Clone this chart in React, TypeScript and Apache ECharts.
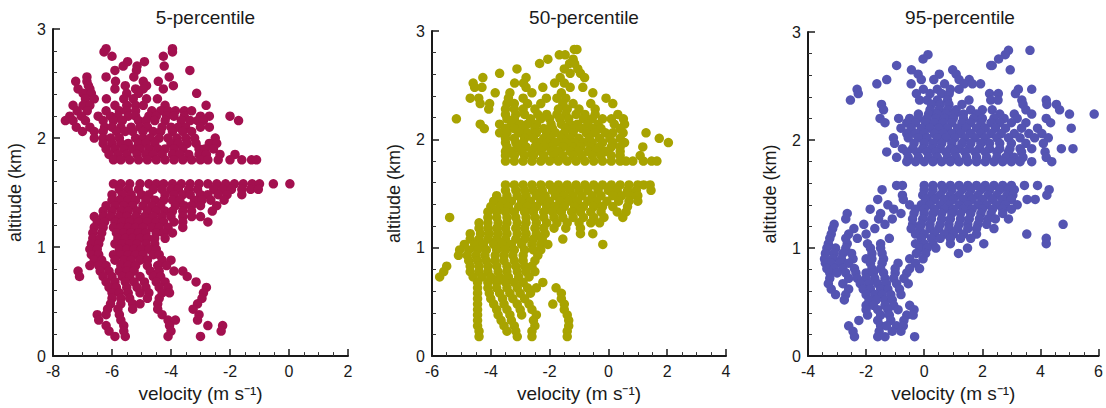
import { useEffect, useRef } from "react";
import * as echarts from "echarts";

// Each row: [altitude (km), velocities (m/s) observed at that altitude]
type Row = [number, number[]];

const P05_ROWS: Row[] = [
  [2.82, [-6.2, -3.95]],
  [2.79, [-6.27, -3.95]],
  [2.75, [-6.0, -4.26]],
  [2.7, [-5.47, -4.9]],
  [2.66, [-5.62, -5.15, -4.23]],
  [2.62, [-5.9, -5.17, -3.36]],
  [2.56, [-6.85, -6.2, -5.26, -4.06]],
  [2.52, [-7.23, -6.85, -5.88, -4.94, -4.43]],
  [2.48, [-6.8, -5.55, -4.83, -3.92]],
  [2.45, [-7.15, -6.75, -5.9, -5.2, -4.94, -4.26]],
  [2.41, [-6.98, -6.7, -5.5, -5.1, -3.13]],
  [2.36, [-6.9, -6.6, -6.19, -5.6, -5.28, -4.83, -4.46]],
  [2.3, [-7.32, -6.98, -6.75, -5.9, -5.5, -5.2, -4.94, -4.2, -2.81]],
  [2.25, [-7.18, -6.84, -6.2, -5.75, -5.5, -5.2, -4.65, -4.35, -4.1, -3.85, -3.55, -3.3]],
  [2.2, [-7.43, -7.04, -6.47, -6.05, -5.8, -5.45, -5.2, -4.75, -4.5, -4.15, -3.9, -3.55, -3.0, -2.7, -2.0]],
  [2.16, [-7.58, -7.32, -6.9, -6.3, -5.95, -5.65, -5.1, -4.85, -4.55, -4.2, -3.65, -3.35, -3.1, -2.9, -1.71]],
  [2.1, [-7.21, -6.75, -6.25, -6.0, -5.7, -5.35, -5.05, -4.8, -4.3, -4.0, -3.75, -3.5, -3.0, -2.7]],
  [2.06, [-7.0, -6.6, -6.3, -5.85, -5.55, -5.3, -4.95, -4.6, -4.35, -3.95, -3.6, -3.3]],
  [2.0, [-6.6, -6.3, -6.05, -5.75, -5.2, -4.95, -4.7, -4.4, -4.1, -3.8, -3.5, -3.2, -2.5]],
  [1.95, [-6.3, -6.0, -5.7, -5.45, -5.1, -4.85, -4.55, -4.0, -3.75, -3.45, -3.15, -2.7, -2.45]],
  [1.9, [-6.2, -5.9, -5.6, -5.3, -5.05, -4.75, -4.45, -4.2, -3.9, -3.6, -3.05, -2.85, -2.56]],
  [1.85, [-6.1, -5.8, -5.5, -5.15, -4.85, -4.6, -4.3, -3.95, -3.7, -3.4, -3.05, -2.8, -2.34, -1.83]],
  [1.8, [-5.95, -5.7, -5.4, -5.1, -4.8, -4.5, -4.2, -3.9, -3.6, -3.3, -3.0, -2.75, -2.4, -2.0, -1.6, -1.27, -1.1]],
  [1.58, [-5.95, -5.7, -5.4, -5.05, -4.75, -4.5, -4.25, -3.95, -3.65, -3.35, -3.05, -2.75, -2.45, -2.15, -1.85, -1.55, -1.25, -1.0, -0.53, 0.03]],
  [1.53, [-5.75, -5.45, -5.1, -4.6, -4.3, -4.0, -3.75, -3.4, -3.1, -2.55, -2.25, -1.95, -1.6, -1.3, -1.04]],
  [1.48, [-6.0, -5.65, -5.35, -5.0, -4.75, -4.2, -3.9, -3.6, -3.35, -3.0, -2.75, -2.4, -2.1, -1.6]],
  [1.43, [-6.0, -5.75, -5.45, -5.2, -4.85, -4.55, -4.25, -3.95, -3.7, -3.2, -2.95, -2.65, -2.2]],
  [1.38, [-6.2, -5.9, -5.6, -5.3, -4.95, -4.65, -4.35, -3.85, -3.55, -3.3, -3.0, -2.45]],
  [1.33, [-6.3, -6.0, -5.7, -5.45, -5.15, -4.8, -4.5, -4.2, -3.95, -3.6, -3.3, -2.6]],
  [1.28, [-6.6, -6.3, -6.05, -5.75, -5.5, -5.2, -4.9, -4.6, -4.3, -4.0, -3.6, -3.3, -3.0]],
  [1.23, [-6.5, -6.25, -5.9, -5.65, -5.4, -5.1, -4.8, -4.5, -4.25, -3.9, -3.6, -2.75]],
  [1.18, [-6.6, -6.3, -5.95, -5.7, -5.45, -5.2, -4.95, -4.65, -4.4, -4.1, -3.6]],
  [1.13, [-6.65, -6.35, -5.85, -5.6, -5.35, -5.1, -4.85, -4.5, -4.25, -3.95]],
  [1.08, [-6.65, -6.4, -5.8, -5.55, -5.3, -5.05, -4.8, -4.55, -4.2]],
  [1.03, [-6.7, -6.45, -5.9, -5.65, -5.4, -5.15, -4.85, -4.55]],
  [0.98, [-6.75, -6.5, -5.75, -5.5, -5.25, -5.0, -4.75, -4.5]],
  [0.93, [-6.7, -6.45, -5.95, -5.7, -5.45, -5.2, -4.95, -4.6, -4.4]],
  [0.88, [-6.6, -6.35, -5.9, -5.6, -5.35, -5.05, -4.8, -4.3, -4.0]],
  [0.83, [-6.75, -6.45, -6.2, -5.7, -5.45, -5.2, -4.8, -4.45, -4.15]],
  [0.78, [-7.15, -6.4, -6.1, -5.75, -5.5, -5.25, -4.7, -4.4, -3.9, -3.6]],
  [0.73, [-7.1, -6.3, -6.0, -5.65, -5.4, -5.05, -4.6, -4.35, -3.45]],
  [0.68, [-6.2, -5.9, -5.55, -5.25, -4.9, -4.5, -4.2, -3.15]],
  [0.63, [-6.1, -5.85, -5.5, -5.15, -4.85, -4.4, -4.1, -2.8]],
  [0.58, [-6.0, -5.75, -5.45, -5.05, -4.75, -4.3, -4.05, -2.9]],
  [0.53, [-6.0, -5.7, -5.4, -4.8, -4.4, -2.95]],
  [0.48, [-6.05, -5.7, -5.3, -5.05, -4.45, -3.1]],
  [0.43, [-6.15, -5.8, -5.3, -4.45, -3.25]],
  [0.38, [-6.5, -6.2, -5.75, -4.3, -3.05]],
  [0.33, [-6.45, -5.7, -4.1, -3.85, -3.1]],
  [0.28, [-6.2, -5.6, -4.05, -2.75, -2.25]],
  [0.23, [-6.1, -5.6, -4.0, -2.3]],
  [0.18, [-5.9, -5.55, -4.1, -3.0]],
];

const P50_ROWS: Row[] = [
  [2.83, [-1.16, -1.07]],
  [2.78, [-1.67, -1.47]],
  [2.74, [-2.06, -1.2]],
  [2.7, [-2.34, -1.32, -1.15]],
  [2.65, [-3.11, -1.5, -1.04]],
  [2.61, [-3.7, -1.3, -0.95]],
  [2.57, [-4.27, -2.8, -1.64, -0.81]],
  [2.52, [-4.6, -3.19, -2.89, -1.83, -1.5]],
  [2.48, [-4.55, -4.3, -2.8, -2.23, -1.3, -0.87]],
  [2.43, [-3.85, -3.35, -2.6, -1.6, -0.53]],
  [2.38, [-4.7, -4.41, -3.4, -2.9, -2.11, -1.75, -1.45, -0.08]],
  [2.33, [-4.36, -4.04, -3.45, -3.2, -2.75, -2.3, -1.55, -1.2, -0.6, 0.15]],
  [2.28, [-4.07, -3.5, -3.2, -2.9, -2.5, -1.7, -1.4, -1.0, -0.45]],
  [2.23, [-3.5, -3.15, -2.85, -2.4, -2.1, -1.75, -1.45, -1.1, -0.8, -0.45, 0.32]],
  [2.19, [-5.17, -3.45, -3.2, -2.65, -2.3, -2.0, -1.65, -1.35, -0.85, -0.55, -0.2, 0.1, 0.51]],
  [2.14, [-4.36, -3.7, -3.3, -3.0, -2.75, -2.45, -1.95, -1.6, -1.3, -1.05, -0.7, -0.35, 0.2, 0.55]],
  [2.1, [-4.22, -3.5, -3.2, -2.9, -2.5, -2.2, -1.9, -1.45, -1.15, -0.9, -0.55, -0.25, 0.4]],
  [2.06, [-3.7, -3.45, -3.05, -2.75, -2.45, -2.1, -1.8, -1.5, -1.2, -0.75, -0.45, -0.1, 0.15, 0.5, 1.28]],
  [2.01, [-3.5, -3.2, -2.85, -2.55, -2.2, -1.95, -1.6, -1.3, -1.0, -0.65, -0.3, 0.05, 0.4, 1.73]],
  [1.97, [-3.5, -3.15, -2.9, -2.4, -2.1, -1.8, -1.45, -1.15, -0.85, -0.55, -0.2, 0.15, 0.55, 2.04]],
  [1.93, [-3.45, -3.1, -2.8, -2.5, -2.2, -1.9, -1.55, -1.25, -0.95, -0.6, -0.3, 0.1, 0.4, 1.17]],
  [1.89, [-3.5, -3.25, -2.95, -2.6, -2.3, -1.95, -1.7, -1.3, -1.05, -0.7, -0.4, -0.1, 0.4]],
  [1.85, [-3.5, -3.2, -2.85, -2.55, -2.2, -1.85, -1.55, -1.2, -0.9, -0.55, -0.25, 0.1, 0.4, 1.08]],
  [1.8, [-3.5, -3.2, -2.9, -2.6, -2.3, -2.0, -1.7, -1.4, -1.1, -0.8, -0.5, -0.2, 0.1, 0.4, 0.6, 0.83, 1.19, 1.47, 1.65]],
  [1.58, [-3.5, -3.2, -2.9, -2.6, -2.3, -2.0, -1.7, -1.4, -1.1, -0.8, -0.5, -0.2, 0.1, 0.4, 0.7, 1.0, 1.2, 1.42]],
  [1.53, [-3.5, -3.15, -2.85, -2.55, -2.25, -1.9, -1.6, -1.3, -1.0, -0.7, -0.35, 0.0, 0.3, 0.65, 0.95, 1.45]],
  [1.48, [-3.8, -3.45, -3.1, -2.8, -2.45, -2.15, -1.8, -1.5, -1.2, -0.9, -0.55, -0.25, 0.15, 0.45, 0.75, 1.0]],
  [1.43, [-3.9, -3.6, -3.3, -2.95, -2.65, -2.3, -2.0, -1.65, -1.35, -1.05, -0.7, -0.4, -0.05, 0.35, 0.7, 1.0]],
  [1.38, [-4.0, -3.7, -3.4, -3.05, -2.75, -2.45, -2.1, -1.8, -1.5, -1.15, -0.85, -0.5, -0.2, 0.15, 0.65]],
  [1.33, [-4.1, -3.8, -3.5, -3.2, -2.85, -2.55, -2.2, -1.9, -1.6, -1.25, -0.95, -0.6, -0.25, 0.3, 0.6]],
  [1.28, [-5.4, -4.1, -3.8, -3.45, -3.15, -2.8, -2.5, -2.2, -1.85, -1.55, -1.2, -0.85, -0.5, -0.15, 0.49]],
  [1.23, [-4.4, -4.1, -3.75, -3.45, -3.1, -2.8, -2.45, -2.1, -1.75, -1.4, -1.0, -0.6, -0.3]],
  [1.18, [-4.4, -4.1, -3.8, -3.5, -3.15, -2.85, -2.5, -2.2, -1.85, -1.45, -0.95]],
  [1.13, [-4.7, -4.35, -4.05, -3.75, -3.45, -3.1, -2.8, -2.45, -2.15, -0.95, -0.53]],
  [1.08, [-4.7, -4.4, -4.1, -3.8, -3.5, -3.15, -2.85, -2.55, -2.25, -1.55]],
  [1.03, [-4.9, -4.55, -4.25, -3.9, -3.6, -3.3, -2.95, -2.6, -2.3, -2.06, -0.19]],
  [0.98, [-5.06, -4.75, -4.45, -4.15, -3.8, -3.5, -3.2, -2.85, -2.55, -2.3]],
  [0.93, [-5.1, -4.8, -4.5, -4.2, -3.85, -3.55, -3.25, -2.9, -2.4]],
  [0.88, [-4.75, -4.45, -4.15, -3.85, -3.55, -3.2, -2.9, -2.5]],
  [0.83, [-5.5, -4.7, -4.4, -4.1, -3.8, -3.45, -3.15, -2.85, -2.6]],
  [0.78, [-5.6, -4.7, -4.4, -4.1, -3.75, -3.45, -3.1, -2.8, -2.5]],
  [0.73, [-5.74, -4.6, -4.3, -4.0, -3.7, -3.4, -3.05, -2.7]],
  [0.68, [-4.45, -4.1, -3.8, -3.5, -3.2, -2.9, -2.23]],
  [0.63, [-4.45, -4.1, -3.8, -3.45, -3.1, -2.75, -2.45, -1.78]],
  [0.58, [-4.45, -4.05, -3.7, -3.35, -3.0, -2.65, -1.6]],
  [0.53, [-4.45, -4.0, -3.6, -3.25, -2.85, -1.6]],
  [0.48, [-4.45, -3.9, -3.55, -3.1, -2.7, -1.89, -1.5]],
  [0.43, [-4.45, -3.8, -3.45, -3.0, -2.6, -1.5]],
  [0.38, [-4.45, -3.75, -3.35, -2.95, -2.45, -1.4]],
  [0.33, [-4.45, -3.65, -3.3, -2.55, -1.35]],
  [0.28, [-4.45, -3.55, -3.2, -2.5, -1.35]],
  [0.23, [-4.4, -3.45, -3.15, -2.6, -1.4]],
  [0.18, [-4.4, -3.1, -2.6, -1.4]],
];

const P95_ROWS: Row[] = [
  [2.83, [2.9, 3.64]],
  [2.79, [0.13, 2.79]],
  [2.75, [-0.04, 2.56]],
  [2.69, [-0.95, 2.29, 2.34]],
  [2.65, [-0.44, 0.98, 2.96]],
  [2.61, [-0.21, 0.52, 1.1]],
  [2.56, [-1.29, -0.1, 0.33, 1.2, 1.55]],
  [2.52, [-1.63, -0.45, 0.7, 1.37, 1.66, 1.94]],
  [2.47, [-2.31, -0.03, 0.45, 0.9, 1.2, 3.24, 3.7]],
  [2.43, [-2.27, -0.27, 0.2, 0.6, 0.86, 2.25, 2.55, 3.14]],
  [2.37, [-2.54, -0.16, 0.1, 0.45, 0.8, 1.54, 2.29, 2.54, 3.36, 4.2]],
  [2.33, [-1.47, 0.25, 0.55, 0.85, 1.3, 3.4, 4.22, 4.55]],
  [2.28, [-1.4, 0.2, 0.5, 0.8, 1.1, 1.6, 2.0, 2.34, 3.5, 4.66]],
  [2.24, [-0.2, 0.15, 0.45, 0.75, 1.05, 1.35, 1.8, 2.6, 3.1, 3.7, 5.0, 5.85]],
  [2.2, [-1.52, -0.88, -0.5, -0.2, 0.1, 0.4, 0.7, 1.0, 1.35, 1.7, 2.0, 2.4, 2.75, 3.2, 4.2]],
  [2.16, [-1.35, -0.6, -0.3, 0.05, 0.35, 0.65, 0.95, 1.3, 1.6, 1.95, 2.3, 2.6, 3.0, 3.5, 4.35]],
  [2.11, [-0.8, -0.45, -0.1, 0.2, 0.5, 0.8, 1.15, 1.45, 1.8, 2.1, 2.45, 2.8, 3.35, 3.9, 5.06]],
  [2.06, [-0.6, -0.3, 0.0, 0.35, 0.65, 0.95, 1.25, 1.6, 1.95, 2.3, 2.65, 3.1, 3.6, 4.05]],
  [2.02, [-1.06, -0.55, -0.2, 0.1, 0.45, 0.75, 1.05, 1.4, 1.75, 2.1, 2.5, 2.9, 3.3, 3.8, 4.27]],
  [1.97, [-1.02, -0.35, 0.0, 0.3, 0.6, 0.95, 1.3, 1.6, 1.95, 2.25, 2.6, 3.0, 3.5, 4.1]],
  [1.92, [-0.75, -0.4, -0.05, 0.25, 0.55, 0.9, 1.2, 1.55, 1.9, 2.25, 2.6, 2.95, 3.3, 3.7, 4.72, 5.12]],
  [1.89, [-1.29, -0.6, -0.25, 0.1, 0.4, 0.75, 1.05, 1.4, 1.75, 2.1, 2.5, 2.9, 3.35, 4.16]],
  [1.84, [-0.95, -0.55, -0.2, 0.15, 0.45, 0.8, 1.1, 1.45, 1.8, 2.15, 2.5, 2.8, 3.1, 3.4, 4.2]],
  [1.8, [-0.6, -0.3, 0.0, 0.3, 0.6, 0.9, 1.2, 1.5, 1.8, 2.1, 2.4, 2.7, 3.0, 3.3, 3.7, 4.39]],
  [1.58, [-0.95, -0.75, 0.0, 0.3, 0.6, 0.9, 1.2, 1.5, 1.8, 2.1, 2.4, 2.7, 3.0, 3.45, 3.9]],
  [1.54, [-1.45, 0.0, 0.3, 0.65, 0.95, 1.3, 1.6, 1.95, 2.25, 2.6, 2.9, 3.1, 4.3]],
  [1.49, [-0.75, -0.05, 0.25, 0.55, 0.9, 1.2, 1.55, 1.85, 2.2, 2.5, 2.85, 3.05, 4.22]],
  [1.45, [-1.6, -0.72, 0.05, 0.35, 0.7, 1.0, 1.35, 1.65, 2.0, 2.35, 2.7, 3.0, 3.54, 3.82]],
  [1.4, [-1.25, -0.5, -0.1, 0.2, 0.55, 0.85, 1.2, 1.5, 1.85, 2.15, 2.5, 2.8, 3.2]],
  [1.36, [-1.86, -1.05, -0.3, 0.0, 0.35, 0.7, 1.0, 1.35, 1.65, 2.0, 2.35, 2.7, 3.0]],
  [1.32, [-2.65, -1.5, -0.8, -0.35, 0.0, 0.3, 0.6, 0.95, 1.25, 1.6, 1.95, 2.3, 2.7]],
  [1.27, [-2.7, -1.57, -1.1, -0.4, -0.05, 0.25, 0.6, 0.9, 1.25, 1.55, 1.9, 2.2, 2.45, 2.9]],
  [1.22, [-3.1, -2.08, -1.35, -0.4, -0.1, 0.2, 0.55, 0.85, 1.2, 1.5, 1.85, 2.15, 4.78]],
  [1.18, [-3.15, -2.42, -1.7, -0.45, -0.15, 0.2, 0.5, 0.85, 1.15, 1.5, 1.8, 2.4]],
  [1.13, [-3.2, -2.6, -2.0, -0.3, 0.0, 0.35, 0.7, 1.0, 1.35, 1.8, 3.53]],
  [1.09, [-3.25, -2.7, -2.3, -1.2, -0.1, 0.25, 0.55, 0.9, 1.25, 1.6, 4.2]],
  [1.04, [-3.3, -2.65, -1.95, -1.5, -0.3, 0.0, 0.3, 0.9, 2.05, 4.2]],
  [1.0, [-3.35, -3.05, -2.7, -1.85, -1.5, -0.15, 0.1, 0.4, 1.49]],
  [0.95, [-3.4, -3.1, -2.8, -2.5, -1.8, -1.45, -0.27, 0.05, 1.18]],
  [0.9, [-3.43, -3.15, -2.85, -2.45, -2.0, -1.8, -1.4, -0.5, -0.04]],
  [0.86, [-3.4, -3.2, -2.9, -2.6, -1.85, -1.45, -0.9, -0.3]],
  [0.81, [-3.35, -3.1, -2.8, -2.4, -1.8, -1.5, -1.0, -0.5, -0.16]],
  [0.77, [-3.25, -3.0, -2.7, -2.35, -2.0, -1.75, -1.4, -1.0, -0.6]],
  [0.72, [-3.25, -2.6, -2.3, -2.0, -1.7, -1.35, -1.05, -0.7]],
  [0.67, [-3.3, -2.8, -2.2, -1.9, -1.6, -1.3, -0.95, -0.55]],
  [0.62, [-3.2, -2.6, -2.1, -1.85, -1.5, -1.25, -0.85]],
  [0.57, [-3.05, -2.7, -2.0, -1.7, -1.45, -1.15, -0.8]],
  [0.52, [-2.75, -1.9, -1.65, -1.35, -1.1]],
  [0.47, [-2.0, -1.75, -1.35, -1.05, -0.5]],
  [0.43, [-2.0, -1.6, -1.25, -0.9, -0.35]],
  [0.38, [-1.95, -1.5, -1.2, -0.6, -0.38]],
  [0.33, [-2.25, -1.6, -1.15, -0.7]],
  [0.28, [-2.6, -1.5, -1.3, -0.95, -0.72]],
  [0.23, [-2.45, -1.55, -1.1, -0.8]],
  [0.18, [-2.4, -1.6, -1.35, -0.33]],
];

const PANEL_TITLES = ["5-percentile", "50-percentile", "95-percentile"];
const PANEL_ROWS = [P05_ROWS, P50_ROWS, P95_ROWS];
const X_MIN = [-8, -6, -4];
const X_MAX = [2, 4, 6];
const DOT_COLORS = ["#a3104f", "#a8a300", "#5454b2"];

const ALT_MIN = 0;
const ALT_MAX = 3;
const X_LABEL = "velocity (m s\u207B\u00B9)";
const Y_LABEL = "altitude (km)";

const FONT = '"Liberation Sans", Arial, Helvetica, sans-serif';
const INK = "#1a1a1a";

// Plot rectangles (px) for the three panels
const GRIDS = [
  { left: 53, top: 29, width: 295, height: 332 },
  { left: 432, top: 31, width: 294, height: 331 },
  { left: 808, top: 32, width: 294, height: 331 },
];

function toPoints(rows: Row[]): number[][] {
  const pts: number[][] = [];
  rows.forEach(([alt, vels]) => vels.forEach((v) => pts.push([v, alt])));
  return pts;
}

export default function App() {
  const ref = useRef<HTMLDivElement>(null);

  useEffect(() => {
    document.body.style.margin = "0";
    if (!ref.current) return;
    const chart = echarts.init(ref.current, null, { renderer: "svg" });

    const axisLine = { show: true, onZero: false, lineStyle: { color: INK, width: 2 } };
    const axisTick = { show: true, inside: true, length: 7, lineStyle: { color: INK, width: 1.5 } };
    const minorLine = { color: "#333", width: 1 };

    chart.setOption({
      animation: false,
      textStyle: { fontFamily: FONT },
      title: GRIDS.map((g, i) => ({
        text: PANEL_TITLES[i],
        left: g.left + g.width / 2,
        top: 3,
        textAlign: "center",
        textStyle: { fontFamily: FONT, fontSize: 19, fontWeight: "normal", color: INK },
      })),
      grid: GRIDS.map((g) => ({ ...g, containLabel: false })),
      xAxis: GRIDS.map((_, i) => ({
        gridIndex: i,
        type: "value",
        min: X_MIN[i],
        max: X_MAX[i],
        interval: 2,
        axisLine,
        axisTick,
        minorTick: { show: true, splitNumber: 4, length: 4, lineStyle: minorLine },
        splitLine: { show: false },
        axisLabel: { color: INK, fontSize: 16, margin: 7, fontFamily: FONT },
        name: X_LABEL,
        nameLocation: "middle",
        nameGap: 27,
        nameTextStyle: { color: INK, fontSize: 19, fontFamily: FONT },
      })),
      yAxis: GRIDS.map((_, i) => ({
        gridIndex: i,
        type: "value",
        min: ALT_MIN,
        max: ALT_MAX,
        interval: 1,
        axisLine,
        axisTick,
        minorTick: { show: true, splitNumber: 5, length: 4, lineStyle: minorLine },
        splitLine: { show: false },
        axisLabel: { color: INK, fontSize: 16, margin: 7, fontFamily: FONT },
        name: Y_LABEL,
        nameLocation: "middle",
        nameGap: 29,
        nameTextStyle: { color: INK, fontSize: 18, fontFamily: FONT },
      })),
      series: PANEL_ROWS.map((rows, i) => ({
        type: "scatter",
        xAxisIndex: i,
        yAxisIndex: i,
        symbol: "circle",
        symbolSize: 9.5,
        itemStyle: { color: DOT_COLORS[i], opacity: 1 },
        data: toPoints(rows),
      })),
    });

    return () => chart.dispose();
  }, []);

  return (
    <div
      ref={ref}
      style={{ position: "fixed", left: 0, top: 0, width: 1106, height: 408, background: "#fff" }}
    />
  );
}
